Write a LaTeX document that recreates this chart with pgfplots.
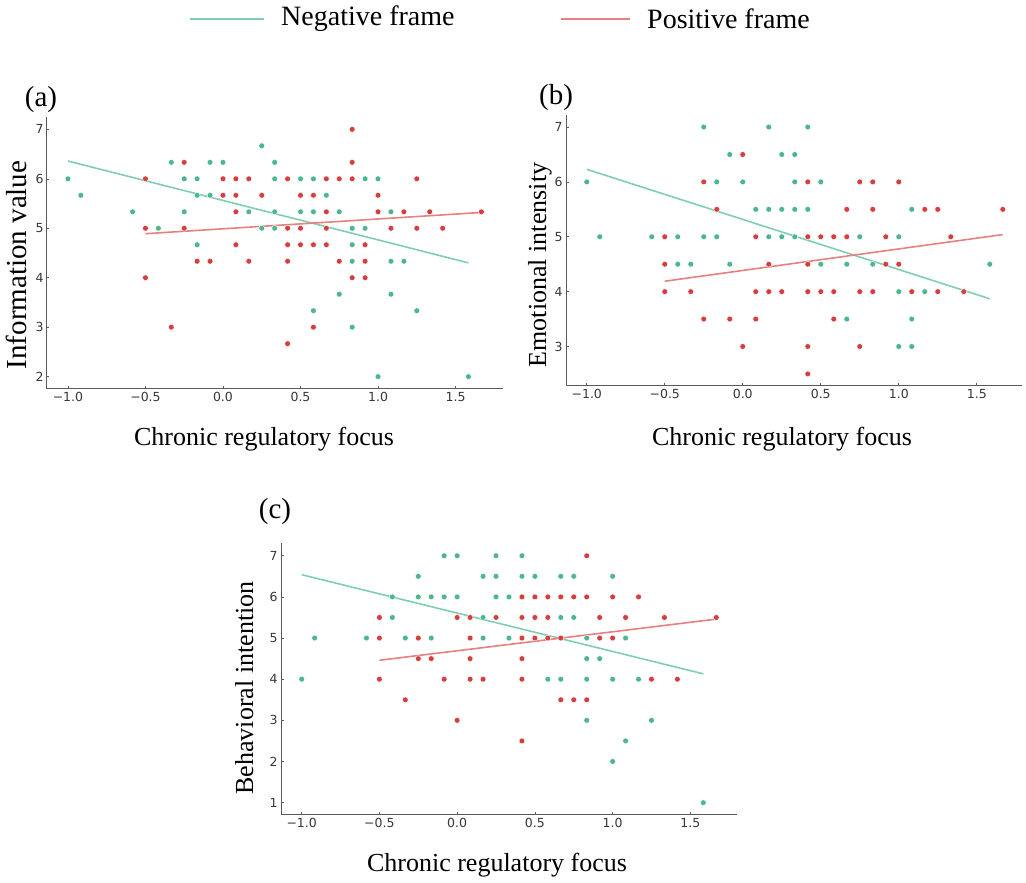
\documentclass[border=0pt]{standalone}
\usepackage{pgfplots}
\pgfplotsset{compat=1.18}
\usepackage{fontspec}
\setmainfont{Liberation Serif}
\newfontfamily\tickfont{DejaVu Sans}
\definecolor{gdot}{RGB}{76,182,142}
\definecolor{rdot}{RGB}{212,62,62}
\definecolor{gline}{RGB}{128,206,176}
\definecolor{rline}{RGB}{232,128,128}
\definecolor{spine}{RGB}{90,90,90}
\definecolor{ticktext}{RGB}{55,55,55}
\pgfplotsset{
  panel/.style={
    scale only axis, width=456pt,
    axis x line*=bottom, axis y line*=left,
    axis line style={spine, line width=1pt},
    tick style={spine, line width=0.6pt},
    major tick length=2.5pt, tick align=inside,
    xtick={-1,-0.5,0,0.5,1,1.5},
    xticklabels={−1.0,−0.5,0.0,0.5,1.0,1.5},
    ticklabel style={font=\tickfont\fontsize{12.5}{14}\selectfont, text=ticktext},
    /pgf/number format/assume math mode=true,
    clip=false,
  },
  gsc/.style={only marks, mark=*, mark size=2.9pt, gdot, mark options={draw=white, line width=0.4pt, fill=gdot}},
  rsc/.style={only marks, mark=*, mark size=2.9pt, rdot, mark options={draw=white, line width=0.4pt, fill=rdot}},
  gl/.style={no marks, gline, line width=1.6pt},
  rl/.style={no marks, rline, line width=1.6pt},
}
\begin{document}
\begin{tikzpicture}[x=1pt,y=1pt]
\useasboundingbox (0,0) rectangle (1026,883);
% ---------------- legend
\draw[gline, line width=1.6pt] (190,864) -- (264,864);
\node[anchor=west, inner sep=0pt, font=\fontsize{28}{30}\selectfont] at (281,864) {Negative frame};
\draw[rline, line width=1.6pt] (561,864) -- (630,864);
\node[anchor=west, inner sep=0pt, font=\fontsize{28}{30}\selectfont] at (647,864) {Positive frame};
% ---------------- panel (a)
\begin{axis}[panel, at={(47pt,494pt)}, anchor=south west, height=272pt,
  xmin=-1.135, xmax=1.806, ymin=1.75, ymax=7.25, ytick={2,3,4,5,6,7}]
\addplot[gsc] coordinates {
(-1,6) (-0.9167,5.667) (-0.5833,5.333) (-0.4167,5) (-0.3333,6.333)
(-0.25,6) (-0.25,5.333) (-0.1667,6) (-0.1667,5.667) (-0.1667,4.667)
(-0.0833,6.333) (-0.0833,5.667) (0,6.333) (0.1667,5.333) (0.25,6.667)
(0.25,5) (0.3333,6.333) (0.3333,6) (0.3333,5.333) (0.3333,5)
(0.5,6) (0.5,5.333) (0.5833,6) (0.5833,5.333) (0.5833,3.333)
(0.6667,5.667) (0.75,5.333) (0.75,3.667) (0.8333,5) (0.8333,4.667)
(0.8333,4.333) (0.8333,3) (0.9167,6) (0.9167,5) (1,6) (1,2)
(1.0833,5.333) (1.0833,4.333) (1.0833,3.667) (1.1667,4.333) (1.25,3.333) (1.5833,2)
};
\addplot[rsc] coordinates {
(-0.5,6) (-0.5,5) (-0.5,4) (-0.3333,3) (-0.25,6.333) (-0.25,5)
(-0.1667,4.333) (-0.0833,4.333) (0,6) (0,5.667) (0.0833,6) (0.0833,5.667)
(0.0833,5.333) (0.0833,4.667) (0.1667,6) (0.1667,4.333) (0.25,5.667)
(0.4167,6) (0.4167,5) (0.4167,4.667) (0.4167,4.333) (0.4167,2.667)
(0.5,5.667) (0.5,5) (0.5,4.667) (0.5833,5.667) (0.5833,4.667) (0.5833,3)
(0.6667,6) (0.6667,5.333) (0.6667,5) (0.6667,4.667) (0.75,6) (0.75,4.333)
(0.8333,7) (0.8333,6.333) (0.8333,6) (0.8333,4) (0.9167,4.667) (0.9167,4.333)
(0.9167,4) (1,5.667) (1,5.333) (1.0833,5) (1.1667,5.333) (1.25,6) (1.25,5)
(1.3333,5.333) (1.4167,5) (1.6667,5.333)
};
\addplot[gl] coordinates {(-1,6.36) (1.5833,4.30)};
\addplot[rl] coordinates {(-0.5,4.89) (1.6667,5.32)};
\end{axis}
% ---------------- panel (b)
\begin{axis}[panel, at={(566pt,497pt)}, anchor=south west, height=271pt,
  xmin=-1.133, xmax=1.79, ymin=2.28, ymax=7.22, ytick={3,4,5,6,7}]
\addplot[gsc] coordinates {
(-1,6) (-0.9167,5) (-0.5833,5) (-0.4167,5) (-0.4167,4.5) (-0.3333,4.5)
(-0.25,7) (-0.25,5) (-0.1667,6) (-0.1667,5) (-0.0833,6.5) (-0.0833,4.5)
(0,6) (0.0833,5.5) (0.1667,7) (0.1667,5.5) (0.1667,5) (0.25,6.5)
(0.25,5.5) (0.25,5) (0.3333,6.5) (0.3333,6) (0.3333,5.5) (0.3333,5)
(0.4167,7) (0.4167,5.5) (0.5,6) (0.5,4.5) (0.6667,4.5) (0.6667,3.5)
(0.75,5) (0.8333,4.5) (1,5) (1,4) (1,3) (1.0833,5.5) (1.0833,3.5)
(1.0833,3) (1.1667,4) (1.5833,4.5)
};
\addplot[rsc] coordinates {
(-0.5,5) (-0.5,4.5) (-0.5,4) (-0.3333,4) (-0.25,6) (-0.25,3.5)
(-0.1667,5.5) (-0.0833,3.5) (0,6.5) (0,3) (0.0833,5) (0.0833,4)
(0.0833,3.5) (0.1667,4.5) (0.1667,4) (0.25,4) (0.4167,6) (0.4167,5)
(0.4167,4.5) (0.4167,4) (0.4167,3) (0.4167,2.5) (0.5,5) (0.5,4)
(0.5833,5) (0.5833,4) (0.5833,3.5) (0.6667,5.5) (0.6667,5) (0.75,6)
(0.75,4) (0.75,3) (0.8333,6) (0.8333,5.5) (0.8333,4) (0.9167,5)
(0.9167,4.5) (1,6) (1,4.5) (1.0833,4) (1.1667,5.5) (1.25,5.5) (1.25,4)
(1.3333,5) (1.4167,4) (1.6667,5.5)
};
\addplot[gl] coordinates {(-1,6.23) (1.5833,3.87)};
\addplot[rl] coordinates {(-0.5,4.19) (1.6667,5.04)};
\end{axis}
% ---------------- panel (c)
\begin{axis}[panel, at={(281pt,68pt)}, anchor=south west, height=272pt,
  xmin=-1.133, xmax=1.80, ymin=0.70, ymax=7.31, ytick={1,2,3,4,5,6,7}]
\addplot[gsc] coordinates {
(-1,4) (-0.9167,5) (-0.5833,5) (-0.4167,6) (-0.4167,5.5) (-0.3333,5)
(-0.25,6.5) (-0.25,6) (-0.1667,6) (-0.1667,5) (-0.0833,7) (-0.0833,6)
(0,7) (0,6) (0.1667,6.5) (0.1667,5.5) (0.1667,5) (0.25,7) (0.25,6.5)
(0.25,6) (0.3333,6) (0.3333,5) (0.4167,7) (0.4167,6.5) (0.5,6.5)
(0.5833,4) (0.6667,6.5) (0.6667,5.5) (0.6667,4) (0.75,6.5) (0.75,5.5)
(0.8333,5) (0.8333,4.5) (0.8333,4) (0.8333,3) (0.9167,4.5) (1,6.5)
(1,4) (1,2) (1.0833,5) (1.0833,2.5) (1.1667,4) (1.25,3) (1.5833,1)
};
\addplot[rsc] coordinates {
(-0.5,5.5) (-0.5,5) (-0.5,4) (-0.3333,3.5) (-0.25,5) (-0.25,4.5)
(-0.1667,4.5) (-0.0833,4) (0,5.5) (0,3) (0.0833,5.5) (0.0833,5)
(0.0833,4.5) (0.0833,4) (0.1667,4) (0.25,5.5) (0.4167,6) (0.4167,5.5)
(0.4167,5) (0.4167,4.5) (0.4167,4) (0.4167,2.5) (0.5,6) (0.5,5.5)
(0.5,5) (0.5833,6) (0.5833,5.5) (0.5833,5) (0.6667,6) (0.6667,5)
(0.6667,3.5) (0.75,6) (0.75,3.5) (0.8333,7) (0.8333,6) (0.8333,3.5)
(0.9167,5.5) (0.9167,5) (1,6) (1,5) (1.0833,5.5) (1.1667,6) (1.25,4)
(1.3333,5.5) (1.4167,4) (1.6667,5.5)
};
\addplot[gl] coordinates {(-1,6.54) (1.5833,4.13)};
\addplot[rl] coordinates {(-0.5,4.46) (1.6667,5.46)};
\end{axis}
% ---------------- labels
\node[font=\fontsize{29}{31}\selectfont] at (41,783) {(a)};
\node[font=\fontsize{29}{31}\selectfont] at (556,785) {(b)};
\node[font=\fontsize{29}{31}\selectfont] at (275,371) {(c)};
\node[anchor=base, inner sep=0pt, font=\fontsize{26}{28}\selectfont] at (264,437) {Chronic regulatory focus};
\node[anchor=base, inner sep=0pt, font=\fontsize{26}{28}\selectfont] at (782,437) {Chronic regulatory focus};
\node[anchor=base, inner sep=0pt, font=\fontsize{26}{28}\selectfont] at (497,11) {Chronic regulatory focus};
\node[anchor=base, inner sep=0pt, rotate=90, font=\fontsize{29}{31}\selectfont] at (27,618) {Information value};
\node[anchor=base, inner sep=0pt, rotate=90, font=\fontsize{26}{28}\selectfont] at (546,618) {Emotional intensity};
\node[anchor=base, inner sep=0pt, rotate=90, font=\fontsize{26}{28}\selectfont] at (253,195) {Behavioral intention};
\end{tikzpicture}
\end{document}
